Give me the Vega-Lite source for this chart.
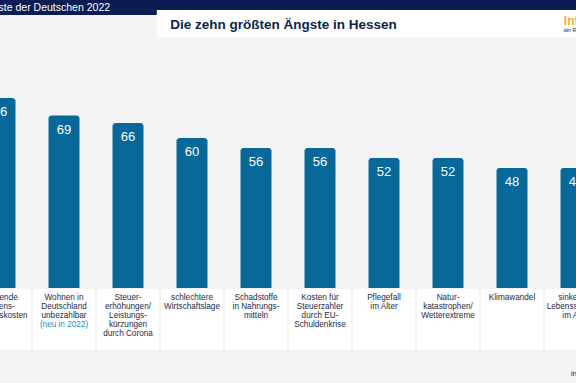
{
  "$schema": "https://vega.github.io/schema/vega-lite/v6.json",
  "width": 576,
  "height": 383,
  "autosize": "none",
  "padding": 0,
  "background": "#f4f4f4",
  "config": {"view": {"stroke": null}, "font": "Liberation Sans", "scale": {"continuousPadding": 0}},
  "data": {
    "values": [
      {"rank": 1, "value": 76, "label": "steigende\nLebens-\nhaltungskosten", "note": ""},
      {"rank": 2, "value": 69, "label": "Wohnen in\nDeutschland\nunbezahlbar", "note": "(neu in 2022)"},
      {"rank": 3, "value": 66, "label": "Steuer-\nerhöhungen/\nLeistungs-\nkürzungen\ndurch Corona", "note": ""},
      {"rank": 4, "value": 60, "label": "schlechtere\nWirtschaftslage", "note": ""},
      {"rank": 5, "value": 56, "label": "Schadstoffe\nin Nahrungs-\nmitteln", "note": ""},
      {"rank": 6, "value": 56, "label": "Kosten für\nSteuerzahler\ndurch EU-\nSchuldenkrise", "note": ""},
      {"rank": 7, "value": 52, "label": "Pflegefall\nim Alter", "note": ""},
      {"rank": 8, "value": 52, "label": "Natur-\nkatastrophen/\nWetterextreme", "note": ""},
      {"rank": 9, "value": 48, "label": "Klimawandel", "note": ""},
      {"rank": 10, "value": 48, "label": "sinkender\nLebensstandard\nim Alter", "note": ""}
    ],
    "name": "main"
  },
  "datasets": {
    "header": [
      {"part": "band", "t": "Die Ängste der Deutschen 2022"}
    ]
  },
  "layer": [
    {
      "mark": {"type": "bar", "size": 62, "color": "#ffffff"},
      "encoding": {
        "x": {"field": "rank", "type": "quantitative", "scale": {"domain": [1, 10], "nice": false, "zero": false, "padding": 0}, "axis": null},
        "y": {"datum": -0.4, "type": "quantitative", "scale": {"domain": [-38, 115.2], "nice": false, "zero": false, "padding": 0}, "axis": null},
        "y2": {"datum": -24.8}
      }
    },
    {
      "mark": {"type": "bar", "size": 31, "color": "#07699a", "cornerRadiusTopLeft": 3, "cornerRadiusTopRight": 3},
      "encoding": {
        "x": {"field": "rank", "type": "quantitative"},
        "y": {"field": "value", "type": "quantitative"},
        "y2": {"datum": 0}
      }
    },
    {
      "mark": {"type": "text", "baseline": "top", "dy": 8, "color": "#ffffff", "fontSize": 13},
      "encoding": {
        "x": {"field": "rank", "type": "quantitative"},
        "y": {"field": "value", "type": "quantitative"},
        "text": {"field": "value", "type": "quantitative"}
      }
    },
    {
      "mark": {"type": "text", "baseline": "top", "lineBreak": "\n", "lineHeight": 9, "fontSize": 8.2, "color": "#1d2a48"},
      "encoding": {
        "x": {"field": "rank", "type": "quantitative"},
        "y": {"datum": -2.4},
        "text": {"field": "label", "type": "nominal"}
      }
    },
    {
      "mark": {"type": "text", "baseline": "top", "fontSize": 8.2, "color": "#2a8cb5"},
      "encoding": {
        "x": {"field": "rank", "type": "quantitative"},
        "y": {"datum": -13.2},
        "text": {"field": "note", "type": "nominal"}
      }
    },
    {
      "data": {"name": "header"},
      "mark": {"type": "rect", "color": "#0a1c52"},
      "encoding": {
        "x": {"datum": 0},
        "x2": {"datum": 11},
        "y": {"datum": 115.2},
        "y2": {"datum": 109.2}
      }
    },
    {
      "data": {"name": "header"},
      "mark": {"type": "rect", "color": "#ffffff"},
      "encoding": {
        "x": {"datum": 3.45},
        "x2": {"datum": 11},
        "y": {"datum": 111.2},
        "y2": {"datum": 100.4}
      }
    },
    {
      "data": {"name": "header"},
      "mark": {"type": "text", "align": "right", "baseline": "middle", "fontSize": 10.5, "color": "#ffffff"},
      "encoding": {"x": {"datum": 2.72}, "y": {"datum": 112.2}, "text": {"field": "t"}}
    },
    {
      "data": {"name": "header"},
      "mark": {"type": "text", "text": "Die zehn größten Ängste in Hessen", "align": "left", "baseline": "middle", "fontSize": 13.5, "fontWeight": "bold", "color": "#0d1f4d"},
      "encoding": {"x": {"datum": 3.66}, "y": {"datum": 105.2}}
    },
    {
      "data": {"name": "header"},
      "mark": {"type": "text", "text": "Infocenter", "align": "left", "baseline": "middle", "fontSize": 12, "fontWeight": "bold", "color": "#f2a93b"},
      "encoding": {"x": {"datum": 9.81}, "y": {"datum": 106.8}}
    },
    {
      "data": {"name": "header"},
      "mark": {"type": "text", "text": "der R+V Versicherung", "align": "left", "baseline": "middle", "fontSize": 5, "color": "#0d1f4d"},
      "encoding": {"x": {"datum": 9.81}, "y": {"datum": 103.4}}
    },
    {
      "data": {"name": "header"},
      "mark": {"type": "text", "text": "infocenter", "align": "left", "baseline": "middle", "fontSize": 7.5, "color": "#1d2a48"},
      "encoding": {"x": {"datum": 9.92}, "y": {"datum": -34.4}}
    }
  ]
}
